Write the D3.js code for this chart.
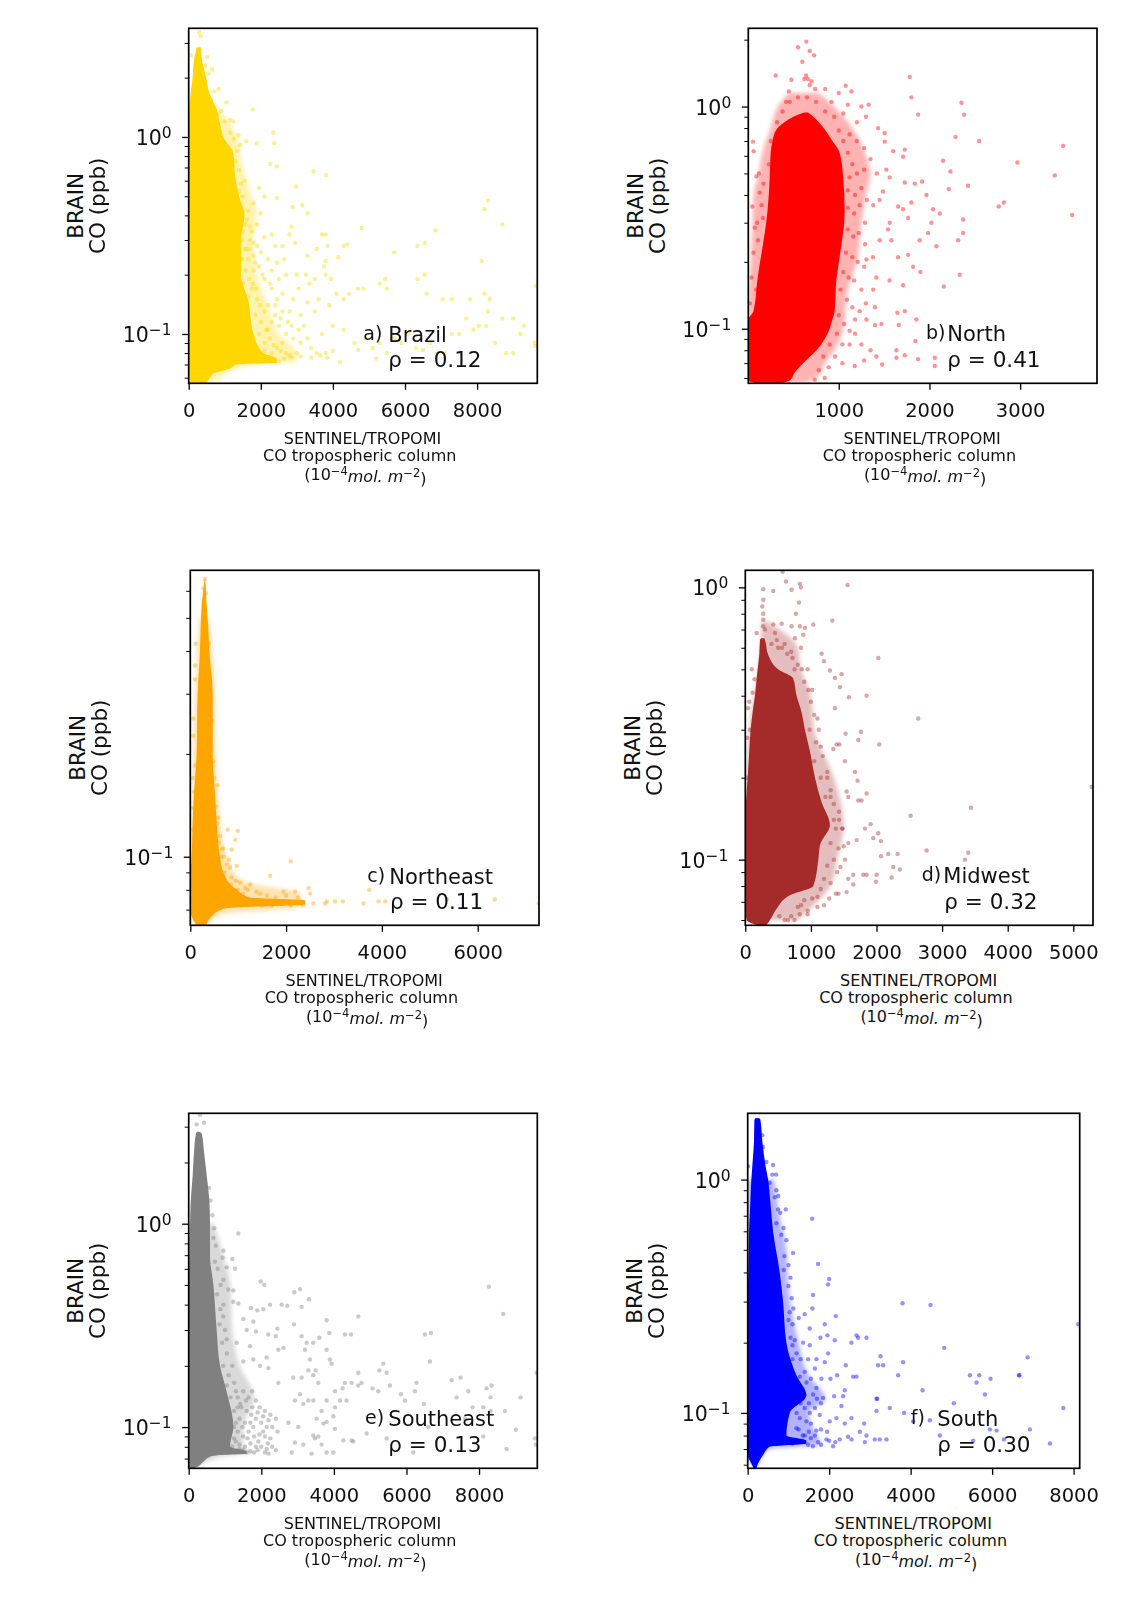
<!DOCTYPE html>
<html>
<head>
<meta charset="utf-8">
<script src="https://cdn.jsdelivr.net/npm/d3@7"></script>
<style>
  body { margin: 0; background: #fff; }
  text { font-family: "DejaVu Sans", sans-serif; fill: #111; }
</style>
</head>
<body>
<div id="chart"></div>
<script>
const width = 1123, height = 1600;

const xTitleLines = ["SENTINEL/TROPOMI", "CO tropospheric column"];
const yTitleLines = ["BRAIN", "CO (ppb)"];

// value ranges and ticks of each panel
const brazilX = [0, 9670], brazilY = [0.0562, 3.56];
const northX = [3, 3847], northY = [0.0568, 2.25];
const northeastX = [0, 7280], northeastY = [0.063, 0.689];
const midwestX = [0, 5300], midwestY = [0.0574, 1.155];
const southeastX = [0, 9605], southeastY = [0.0627, 3.49];
const southX = [0, 8150], southY = [0.0579, 1.923];

const brazilTicks = [0, 2000, 4000, 6000, 8000];
const northTicks = [1000, 2000, 3000];
const northeastTicks = [0, 2000, 4000, 6000];
const midwestTicks = [0, 1000, 2000, 3000, 4000, 5000];
const southeastTicks = [0, 2000, 4000, 6000, 8000];
const southTicks = [0, 2000, 4000, 6000, 8000];

const brazilMinor = [0.06, 0.07, 0.08, 0.09, 0.2, 0.3, 0.4, 0.5, 0.6, 0.7, 0.8, 0.9, 2, 3];
const northMinor = [0.06, 0.07, 0.08, 0.09, 0.2, 0.3, 0.4, 0.5, 0.6, 0.7, 0.8, 0.9, 2];
const northeastMinor = [0.07, 0.08, 0.09, 0.2, 0.3, 0.4, 0.5, 0.6];
const midwestMinor = [0.06, 0.07, 0.08, 0.09, 0.2, 0.3, 0.4, 0.5, 0.6, 0.7, 0.8, 0.9];
const southeastMinor = [0.07, 0.08, 0.09, 0.2, 0.3, 0.4, 0.5, 0.6, 0.7, 0.8, 0.9, 2, 3];
const southMinor = [0.06, 0.07, 0.08, 0.09, 0.2, 0.3, 0.4, 0.5, 0.6, 0.7, 0.8, 0.9];

// saturated part of each cloud, read as [co ppb, left column, right column]
const brazilCore = [[2.85,222,333],[2.46,148,370],[2.02,110,480],[1.67,55,575],[1.37,20,780],[1.17,0,870],[1,0,960],[0.826,0,1240],[0.63,0,1290],[0.5,0,1400],[0.4,0,1550],[0.3,0,1450],[0.2,0,1450],[0.149,0,1650],[0.1,0,1800],[0.08,0,2070],[0.075,0,2445],[0.0715,0,2445],[0.07,0,1330],[0.0668,0,1150],[0.063,0,685],[0.0585,0,550],[0.0562,0,500]];
const northCore = [[0.94,620,660],[0.9,500,720],[0.85,400,780],[0.785,310,850],[0.7,270,930],[0.62,250,1010],[0.485,240,1048],[0.34,215,1065],[0.3,200,1060],[0.24,165,1030],[0.197,130,1000],[0.168,105,975],[0.12,60,955],[0.11,3,930],[0.1,3,900],[0.08,3,755],[0.07,3,607],[0.0635,3,515],[0.0585,3,460],[0.0568,100,350]];
const northeastCore = [[0.65,300,315],[0.546,237,342],[0.466,216,376],[0.4,202,397],[0.3,153,467],[0.2,132,467],[0.152,77,516],[0.127,49,550],[0.1,28,620],[0.09,7,690],[0.08,0,970],[0.076,0,1250],[0.0745,0,2400],[0.0725,0,2400],[0.071,0,900],[0.07,0,650],[0.067,30,450],[0.064,100,350],[0.063,130,340]];
const midwestCore = [[0.65,240,290],[0.64,224,300],[0.564,213,350],[0.5,188,500],[0.463,173,730],[0.4,147,782],[0.348,112,858],[0.3,81,909],[0.25,61,985],[0.2,36,1062],[0.1625,10,1163],[0.134,0,1290],[0.113,0,1138],[0.1,0,1113],[0.08,0,1036],[0.074,0,680],[0.066,0,478],[0.06,20,376],[0.0575,173,325]];
const southeastCore = [[2.83,240,290],[2.78,200,358],[2.26,147,422],[1.73,110,496],[1.28,55,570],[1,37,587],[0.7,18,587],[0.5,0,680],[0.3,0,771],[0.2,0,863],[0.149,0,1047],[0.1,0,1230],[0.08,0,1138],[0.076,0,1600],[0.074,0,1600],[0.0729,0,860],[0.0715,0,587],[0.0675,0,404],[0.0635,0,220],[0.0627,0,150]];
const southCore = [[1.83,190,290],[1.8,164,311],[1.455,155,360],[1.155,115,434],[1,90,500],[0.8,65,557],[0.6,33,622],[0.4,16,786],[0.3,0,868],[0.2,0,950],[0.145,0,1196],[0.119,0,1441],[0.1,0,1032],[0.08,0,950],[0.076,0,1441],[0.074,0,1441],[0.0717,0,540],[0.066,0,377],[0.0607,90,254],[0.0579,147,213]];

// thinner stippled part around the core
const brazilFringe = [[1.5,60,700],[1,0,1350],[0.7,0,1500],[0.5,0,1750],[0.4,0,1900],[0.3,0,1800],[0.2,0,1900],[0.14,0,2200],[0.1,0,2500],[0.08,0,3000],[0.072,0,3000],[0.07,0,2000],[0.066,0,1300],[0.06,0,900],[0.0565,0,650]];
const northFringe = [[1.15,450,780],[1,330,950],[0.8,250,1150],[0.6,150,1300],[0.5,120,1350],[0.4,60,1300],[0.3,50,1250],[0.2,30,1200],[0.15,10,1100],[0.1,3,1050],[0.08,3,950],[0.07,3,850],[0.06,3,750],[0.0568,3,600]];
const northeastFringe = [[0.5,180,400],[0.3,100,520],[0.2,60,540],[0.12,30,650],[0.1,10,750],[0.085,0,1100],[0.078,0,2300],[0.071,0,2300],[0.068,0,700],[0.064,30,420]];
const midwestFringe = [[0.75,250,330],[0.6,230,800],[0.5,200,850],[0.4,130,1000],[0.3,60,1050],[0.2,10,1350],[0.134,0,1500],[0.1,0,1400],[0.08,0,1300],[0.07,0,1100],[0.06,0,800]];
const southeastFringe = [[1,0,700],[0.7,0,950],[0.5,0,1150],[0.3,0,1200],[0.2,0,1400],[0.14,0,1800],[0.1,0,1500],[0.08,0,1500],[0.075,0,1700],[0.072,0,1000],[0.064,0,300]];
const southFringe = [[1,0,650],[0.7,0,780],[0.5,0,950],[0.35,0,1000],[0.2,0,1250],[0.145,0,1500],[0.115,0,1900],[0.1,0,1500],[0.08,0,1700],[0.073,0,1800],[0.07,0,500],[0.06,60,280]];

// single points that can be told apart, [column, co ppb]
const brazilPts = [[1778,1.38],[2352,1.05],[2370,0.93],[1890,0.93],[1240,1.2],[1150,1.22],[1426,0.91],[1600,0.95],[1380,1.02],[1050,1.5],[830,1.75],[650,2.2],[520,2.55],[290,3.4],[330,3.25],[60,2.6],[620,1.55],[780,1.3],[3463,0.67],[3815,0.64],[2260,0.73],[2445,0.71],[2982,0.56],[1950,0.55],[2100,0.5],[2450,0.49],[2880,0.44],[3150,0.45],[3300,0.41],[1990,0.41],[1800,0.46],[1650,0.42],[1550,0.6],[1400,0.68],[1300,0.75],[1400,0.53],[8300,0.475],[8200,0.43],[8700,0.36],[6850,0.335],[6550,0.29],[6350,0.28],[5700,0.26],[8130,0.235],[4800,0.345],[4400,0.285],[4300,0.28],[3800,0.32],[3700,0.32],[3850,0.28],[3550,0.27],[3300,0.25],[4150,0.245],[3800,0.235],[3750,0.22],[3800,0.2],[3950,0.19],[2850,0.35],[2800,0.32],[2950,0.29],[2600,0.28],[2400,0.28],[3000,0.2],[2700,0.2],[9620,0.175],[8200,0.16],[8300,0.13],[9000,0.12],[8700,0.12],[9300,0.11],[8350,0.15],[7800,0.15],[7300,0.15],[7050,0.15],[6600,0.16],[6350,0.19],[6550,0.2],[5300,0.18],[5450,0.19],[5500,0.17],[4850,0.17],[4700,0.17],[4450,0.16],[4300,0.15],[4100,0.16],[3900,0.14],[3600,0.15],[3300,0.145],[3500,0.13],[3100,0.125],[3200,0.11],[2800,0.13],[2450,0.15],[2600,0.16],[2300,0.17],[2100,0.19],[1950,0.22],[1800,0.25],[2000,0.26],[2200,0.24],[1700,0.3],[1900,0.28],[2100,0.31],[1700,0.35],[1600,0.27],[1500,0.33],[1800,0.21],[1750,0.17],[1900,0.15],[2100,0.13],[2300,0.115],[2500,0.11],[2700,0.1],[2900,0.095],[3100,0.09],[3400,0.085],[3700,0.1],[4000,0.11],[4300,0.105],[4600,0.09],[4900,0.095],[5100,0.085],[5300,0.09],[5500,0.08],[5700,0.095],[5900,0.09],[6100,0.1],[6300,0.085],[6500,0.083],[6700,0.09],[6900,0.08],[7100,0.08],[7300,0.1],[7500,0.1],[7700,0.12],[7900,0.105],[8050,0.11],[8250,0.11],[8500,0.09],[8800,0.08],[9200,0.1],[9600,0.09],[9620,0.087],[9000,0.08],[2600,0.13],[2900,0.15],[3050,0.17],[3350,0.18],[3500,0.19],[3250,0.2],[2500,0.19],[2300,0.21],[2400,0.125],[2200,0.105],[2600,0.09],[2850,0.11],[3050,0.105],[3300,0.095],[3550,0.08],[3800,0.08],[4000,0.082],[2800,0.078],[3100,0.077],[3400,0.076],[3650,0.078],[3850,0.076],[4200,0.072],[4700,0.083],[5200,0.075]];
const brazilEdge = [[1500,0.42],[1620,0.38],[1750,0.33],[1480,0.3],[1560,0.27],[1650,0.24],[1480,0.24],[1570,0.21],[1680,0.19],[1500,0.18],[1780,0.18],[1650,0.155],[1880,0.17],[1980,0.14],[1850,0.125],[2000,0.115],[2150,0.105],[1950,0.1],[2250,0.095],[2100,0.09],[2350,0.088],[2450,0.085],[2550,0.082],[2700,0.08],[2300,0.08],[2100,0.082],[2650,0.075],[2850,0.076],[3000,0.08],[2500,0.073],[1500,0.5],[1450,0.58],[1350,0.85],[1250,0.98],[1150,1.05],[1000,1.2],[900,1.35],[700,1.7],[550,2.1],[460,2.3],[1560,0.36],[1700,0.27],[1850,0.23],[2050,0.2],[2250,0.18],[2400,0.14],[2200,0.14],[2550,0.12],[2750,0.115],[2300,0.32],[2450,0.23],[2650,0.24],[1900,0.36],[1800,0.29]];
const northPts = [[643,1.96],[551,1.85],[680,1.78],[728,1.7],[599,1.59],[305,1.38],[620,1.33],[660,1.33],[700,1.3],[640,1.38],[680,1.25],[740,1.2],[478,1.32],[1077,1.24],[1140,1.17],[1783,1.36],[1800,1.1],[1875,0.92],[2353,1.04],[2382,0.92],[2287,0.73],[2548,0.7],[3474,0.665],[2970,0.56],[3382,0.49],[3573,0.325],[2820,0.37],[2764,0.355],[2426,0.44],[2150,0.57],[2231,0.51],[2213,0.425],[1919,0.46],[1728,0.455],[1838,0.45],[1967,0.4],[2040,0.345],[2114,0.33],[2371,0.31],[2022,0.3],[2371,0.27],[2316,0.25],[1985,0.27],[1893,0.25],[2077,0.235],[1765,0.215],[1654,0.21],[1820,0.19],[1900,0.18],[2334,0.175],[2158,0.155],[1710,0.157],[1728,0.12],[1647,0.118],[1856,0.11],[1661,0.104],[1470,0.105],[1400,0.104],[1845,0.088],[1636,0.08],[1728,0.076],[1636,0.074],[1875,0.073],[2059,0.074],[2059,0.068],[1478,0.069],[1415,0.075],[1305,0.11],[1176,0.068],[845,0.06],[735,0.059],[1434,0.8],[1507,0.76],[1507,0.695],[1600,0.63],[1728,0.64],[1710,0.595],[1525,0.52],[1562,0.48],[1488,0.415],[1654,0.355],[1800,0.37],[1710,0.345],[1765,0.315],[1562,0.3],[1580,0.25],[1543,0.28],[1452,0.25],[1378,0.21],[1305,0.205],[1415,0.17],[1560,0.165],[55,0.695],[62,0.63],[92,0.485],[129,0.41],[48,0.355],[165,0.315],[74,0.285],[1300,0.9],[1200,0.85],[1350,0.58],[1420,0.5],[1380,0.36],[1450,0.38],[1380,0.15],[1300,0.13],[1400,0.125],[1250,0.085],[1350,0.08],[1280,0.072],[1180,0.095],[1100,1.02],[1250,1],[1330,1.02],[1000,1.15],[850,1.2],[450,1.17],[420,1.05],[920,1.05]];
const northEdge = [[1100,0.62],[1150,0.55],[1120,0.48],[1200,0.5],[1280,0.52],[1100,0.42],[1180,0.4],[1250,0.43],[1310,0.38],[1100,0.35],[1170,0.33],[1230,0.36],[1290,0.3],[1100,0.28],[1160,0.26],[1220,0.27],[1290,0.24],[1080,0.22],[1150,0.21],[1210,0.2],[1280,0.19],[1050,0.18],[1110,0.17],[1170,0.165],[1250,0.15],[1020,0.15],[1090,0.135],[1150,0.125],[1230,0.12],[1000,0.115],[1060,0.105],[1120,0.098],[1180,0.11],[980,0.095],[1040,0.085],[1120,0.085],[900,0.085],[960,0.075],[1040,0.07],[830,0.075],[890,0.067],[780,0.065],[1050,0.7],[1000,0.78],[1120,0.75],[1200,0.7],[1280,0.65],[950,0.9],[850,0.95],[1050,0.93],[750,1.05],[650,1.1],[550,1.1],[460,1.05],[380,0.95],[320,0.85],[250,0.7],[230,0.55],[120,0.5],[170,0.45],[100,0.3],[150,0.36],[60,0.22],[110,0.25],[40,0.17],[90,0.15],[20,0.13]];
const northeastPts = [[307,0.65],[272,0.61],[328,0.59],[293,0.54],[112,0.42],[397,0.42],[98,0.363],[376,0.35],[63,0.254],[63,0.226],[98,0.185],[84,0.155],[572,0.162],[63,0.139],[585,0.13],[781,0.12],[990,0.119],[941,0.112],[864,0.105],[690,0.106],[808,0.098],[969,0.094],[829,0.093],[2098,0.097],[1666,0.088],[2467,0.081],[2189,0.079],[1945,0.079],[1248,0.083],[1038,0.084],[864,0.087],[934,0.08],[1457,0.078],[2572,0.073],[2502,0.078],[2816,0.073],[2851,0.074],[3025,0.074],[3185,0.074],[3617,0.073],[3736,0.08],[3931,0.074],[4070,0.074],[5360,0.075],[6357,0.075],[7277,0.073],[1100,0.078],[1380,0.079],[1600,0.077],[1780,0.076],[2000,0.077],[2250,0.076],[2350,0.072],[1150,0.081],[950,0.085],[720,0.09],[640,0.1],[600,0.11]];
const northeastEdge = [[400,0.28],[460,0.25],[480,0.19],[500,0.17],[540,0.14],[560,0.125],[620,0.115],[660,0.105],[700,0.1],[760,0.095],[850,0.083],[700,0.078],[1000,0.08],[1200,0.08],[1300,0.073],[1500,0.072],[1700,0.072],[1900,0.073],[2100,0.072],[2300,0.074],[100,0.33],[50,0.17],[60,0.12]];
const midwestPts = [[569,1.14],[620,1.05],[274,0.985],[427,0.97],[706,0.98],[833,1.03],[848,1],[1560,1.02],[818,0.88],[259,0.85],[274,0.9],[772,0.8],[1326,0.755],[1036,0.73],[427,0.73],[554,0.735],[706,0.72],[833,0.72],[909,0.71],[274,0.8],[274,0.76],[173,0.68],[452,0.68],[757,0.65],[884,0.67],[2027,0.55],[1163,0.57],[1199,0.535],[1290,0.495],[1468,0.48],[1367,0.465],[1443,0.43],[1849,0.4],[1580,0.395],[1367,0.36],[2637,0.33],[2042,0.265],[1529,0.29],[1763,0.295],[1722,0.275],[1392,0.265],[1341,0.255],[1433,0.265],[1519,0.23],[1671,0.21],[1712,0.195],[1544,0.178],[1570,0.17],[1849,0.175],[1773,0.165],[1722,0.165],[3439,0.155],[2520,0.145],[1910,0.135],[1824,0.13],[2027,0.125],[1951,0.12],[2068,0.117],[2764,0.108],[3398,0.106],[3348,0.1],[2322,0.105],[2179,0.105],[2068,0.103],[2256,0.094],[2357,0.092],[2230,0.086],[2002,0.088],[1991,0.083],[1798,0.088],[1849,0.088],[1646,0.088],[1570,0.085],[1646,0.081],[1544,0.076],[5278,0.185],[1697,0.118],[1570,0.115],[1500,0.112],[1450,0.094],[1520,0.1],[1400,0.09],[1380,0.075],[1280,0.072],[1200,0.068],[950,0.065],[830,0.063],[700,0.062],[600,0.06],[850,0.068],[1100,0.073],[1350,0.14],[1480,0.13],[1430,0.15],[1300,0.17],[1250,0.2],[1150,0.26],[1100,0.33],[1020,0.42],[950,0.5],[850,0.6],[700,0.58],[600,0.62],[500,0.6],[110,0.41],[40,0.36],[70,0.3]];
const midwestEdge = [[270,0.72],[300,0.7],[400,0.62],[480,0.64],[560,0.6],[640,0.57],[720,0.55],[800,0.52],[860,0.5],[750,0.5],[900,0.45],[960,0.42],[1000,0.38],[1050,0.34],[1120,0.3],[980,0.3],[1080,0.27],[1180,0.24],[1050,0.23],[1150,0.2],[1250,0.21],[1300,0.18],[1220,0.17],[1350,0.16],[1430,0.14],[1380,0.13],[1480,0.13],[1300,0.115],[1420,0.11],[1250,0.095],[1350,0.1],[1200,0.085],[1300,0.082],[1420,0.075],[1150,0.078],[1020,0.072],[900,0.071],[1100,0.067],[800,0.067],[950,0.063],[750,0.06],[650,0.06],[520,0.062],[100,0.5],[60,0.38],[140,0.46],[30,0.28],[20,0.2]];
const southeastPts = [[312,3.42],[220,3.08],[422,3.14],[1368,0.896],[955,0.737],[936,0.68],[1203,0.67],[1276,0.6],[1047,0.61],[955,0.53],[1983,0.52],[2084,0.5],[1092,0.475],[1230,0.47],[3066,0.477],[2910,0.46],[3314,0.425],[3112,0.39],[2561,0.4],[2717,0.395],[2240,0.4],[2056,0.38],[1891,0.375],[1717,0.385],[1230,0.413],[1368,0.405],[955,0.4],[1505,0.34],[1781,0.33],[1597,0.3],[1854,0.295],[2901,0.32],[3800,0.335],[4673,0.35],[3874,0.29],[4305,0.285],[4471,0.285],[3112,0.28],[3250,0.26],[3433,0.26],[3599,0.275],[2442,0.305],[2194,0.285],[2400,0.28],[6509,0.285],[6674,0.29],[8271,0.49],[8666,0.36],[6646,0.21],[5361,0.205],[5251,0.19],[5453,0.185],[4673,0.185],[3204,0.24],[3800,0.24],[3892,0.215],[3938,0.205],[3341,0.215],[3296,0.19],[3498,0.19],[3433,0.18],[3571,0.165],[2882,0.175],[3112,0.175],[2469,0.165],[1964,0.2],[1781,0.215],[1689,0.25],[1322,0.26],[1047,0.27],[1505,0.21],[2194,0.195],[2148,0.22],[2469,0.24],[2607,0.245],[7243,0.17],[7491,0.175],[6279,0.165],[5545,0.16],[5067,0.155],[5223,0.15],[4673,0.16],[4489,0.165],[4305,0.165],[4764,0.165],[4030,0.15],[4241,0.155],[4351,0.135],[4168,0.135],[4030,0.125],[3800,0.135],[3663,0.12],[3433,0.135],[3158,0.13],[2928,0.135],[3066,0.145],[3296,0.135],[6233,0.15],[5848,0.145],[5958,0.135],[6481,0.13],[7381,0.14],[7702,0.15],[8207,0.155],[8345,0.16],[8317,0.14],[9143,0.14],[7821,0.125],[8115,0.125],[8712,0.12],[8317,0.12],[7610,0.11],[6600,0.1],[9015,0.097],[9585,0.185],[9540,0.088],[9565,0.082],[8757,0.078],[8115,0.09],[6187,0.075],[5453,0.088],[4902,0.093],[4535,0.085],[4489,0.086],[4260,0.086],[3984,0.075],[3800,0.075],[3663,0.082],[3433,0.091],[3571,0.09],[3479,0.088],[3387,0.074],[3158,0.082],[2928,0.084],[2837,0.075],[3020,0.1],[2745,0.105],[4030,0.098],[3709,0.104],[3525,0.11],[3984,0.113],[3800,0.106],[1350,0.14],[1500,0.15],[1650,0.14],[1750,0.15],[1850,0.135],[1450,0.125],[1600,0.12],[1750,0.125],[1950,0.125],[2100,0.12],[2250,0.115],[2400,0.11],[1400,0.11],[1550,0.105],[1700,0.105],[1850,0.11],[2000,0.105],[2150,0.1],[2300,0.1],[2450,0.095],[1350,0.095],[1500,0.09],[1650,0.095],[1800,0.09],[1950,0.092],[2100,0.09],[2250,0.088],[1400,0.082],[1550,0.08],[1700,0.083],[1850,0.08],[2000,0.08],[2150,0.078],[2300,0.08],[1300,0.076],[1600,0.075],[1800,0.075],[2100,0.075],[2200,0.074],[2400,0.077],[1420,0.13],[1580,0.135],[1720,0.115],[1900,0.118],[2050,0.113],[2200,0.108],[1480,0.1],[1620,0.088],[1780,0.1],[1920,0.085],[2050,0.095],[2180,0.083],[1250,0.12],[1300,0.105],[1250,0.088]];
const southeastEdge = [[560,1.5],[600,1.3],[650,1.1],[700,0.95],[680,0.85],[750,0.78],[720,0.65],[800,0.6],[880,0.5],[780,0.45],[870,0.38],[950,0.35],[1000,0.3],[850,0.32],[920,0.26],[1050,0.23],[950,0.2],[1100,0.18],[1200,0.2],[1050,0.16],[1250,0.165],[1150,0.14],[1300,0.15],[1250,0.1],[1350,0.125],[1300,0.085],[1200,0.08],[1400,0.078],[1500,0.077],[1700,0.076],[1900,0.077],[1000,0.075]];
const southPts = [[229,1.8],[278,1.72],[213,1.58],[360,1.55],[377,1.38],[8,1.14],[622,1.155],[459,1.19],[606,1.05],[541,0.97],[704,0.9],[663,0.84],[745,0.745],[934,0.745],[1581,0.68],[827,0.58],[704,0.65],[1114,0.485],[1728,0.435],[885,0.41],[1998,0.375],[1974,0.355],[1605,0.32],[1589,0.28],[3800,0.295],[4488,0.29],[2162,0.26],[1253,0.255],[1400,0.265],[1032,0.27],[1892,0.24],[1523,0.23],[1957,0.215],[1785,0.21],[2138,0.205],[2670,0.215],[2711,0.21],[2547,0.2],[2916,0.21],[4824,0.19],[6871,0.173],[1523,0.195],[1360,0.2],[1155,0.205],[1097,0.195],[1974,0.18],[1687,0.17],[1482,0.17],[1892,0.165],[2408,0.16],[3260,0.175],[3202,0.16],[3325,0.16],[3816,0.165],[3694,0.145],[2670,0.143],[2588,0.143],[2195,0.145],[2031,0.14],[1810,0.14],[1650,0.155],[4292,0.125],[5454,0.145],[5684,0.145],[5618,0.135],[5962,0.14],[5823,0.12],[6658,0.145],[6670,0.145],[5061,0.11],[7748,0.105],[3161,0.115],[3180,0.115],[3489,0.105],[3161,0.102],[3841,0.1],[4062,0.092],[4472,0.093],[2383,0.125],[2342,0.118],[2121,0.118],[2301,0.107],[2547,0.095],[2178,0.095],[2383,0.09],[2015,0.092],[2858,0.09],[2752,0.083],[4717,0.08],[6928,0.085],[5946,0.085],[6110,0.084],[5536,0.076],[6290,0.077],[7420,0.074],[8116,0.24],[3407,0.077],[3243,0.077],[3120,0.077],[2916,0.08],[2875,0.075],[2465,0.079],[2260,0.077],[2097,0.072],[1933,0.077],[1728,0.075],[1482,0.073],[1687,0.084],[1441,0.092],[1278,0.095],[1196,0.086],[1523,0.1],[1769,0.098],[1851,0.116],[1605,0.12],[1687,0.128],[1278,0.143],[1441,0.135],[1300,0.11],[1400,0.105],[1550,0.09],[1650,0.08],[1800,0.085],[1350,0.08],[2000,0.076],[2150,0.075],[2550,0.077]];
const southEdge = [[700,1.05],[750,0.85],[800,0.72],[880,0.62],[950,0.55],[900,0.47],[1000,0.43],[1050,0.38],[1000,0.35],[1080,0.31],[1120,0.28],[1000,0.25],[1100,0.24],[1050,0.21],[1200,0.18],[1100,0.17],[1300,0.17],[1400,0.15],[1550,0.14],[1700,0.115],[1800,0.11],[1650,0.105],[1500,0.11],[1350,0.115],[1250,0.125],[1200,0.1],[1250,0.085],[1400,0.08],[1550,0.078],[1200,0.076],[1350,0.076],[1600,0.072],[1800,0.073],[1950,0.083],[1100,0.074],[1500,0.083]];

const panels = [
  { letter: "a)", name: "Brazil", rho: "ρ = 0.12", color: "#ffd700", left: 188.7, right: 537.3, top: 28.3, xDomain: brazilX, yDomain: brazilY, xTicks: brazilTicks, yMinor: brazilMinor, core: brazilCore, fringe: brazilFringe, pts: brazilPts.concat(brazilEdge), lx: 363.3, nx: 388.3, ny: 341.7, rx: 388.3 },
  { letter: "b)", name: "North", rho: "ρ = 0.41", color: "#ff0000", left: 748.3, right: 1097, top: 28.3, xDomain: northX, yDomain: northY, xTicks: northTicks, yMinor: northMinor, core: northCore, fringe: northFringe, pts: northPts.concat(northEdge), lx: 926, nx: 947.3, ny: 341, rx: 947.3 },
  { letter: "c)", name: "Northeast", rho: "ρ = 0.11", color: "#ffa500", left: 190.3, right: 539, top: 570.3, xDomain: northeastX, yDomain: northeastY, xTicks: northeastTicks, yMinor: northeastMinor, core: northeastCore, fringe: northeastFringe, pts: northeastPts.concat(northeastEdge), lx: 367.3, nx: 389.3, ny: 883.7, rx: 390 },
  { letter: "d)", name: "Midwest", rho: "ρ = 0.32", color: "#a52a2a", left: 745.3, right: 1093, top: 570.3, xDomain: midwestX, yDomain: midwestY, xTicks: midwestTicks, yMinor: midwestMinor, core: midwestCore, fringe: midwestFringe, pts: midwestPts.concat(midwestEdge), lx: 921.7, nx: 943.3, ny: 883.3, rx: 944.3 },
  { letter: "e)", name: "Southeast", rho: "ρ = 0.13", color: "#808080", left: 188.7, right: 537.3, top: 1113.3, xDomain: southeastX, yDomain: southeastY, xTicks: southeastTicks, yMinor: southeastMinor, core: southeastCore, fringe: southeastFringe, pts: southeastPts.concat(southeastEdge), lx: 365, nx: 388.3, ny: 1426, rx: 388.3 },
  { letter: "f)", name: "South", rho: "ρ = 0.30", color: "#0000ff", left: 747.7, right: 1079.7, top: 1113.3, xDomain: southX, yDomain: southY, xTicks: southTicks, yMinor: southMinor, core: southCore, fringe: southFringe, pts: southPts.concat(southEdge), lx: 910.7, nx: 937.3, ny: 1426, rx: 937.3 }
];

const plotHeight = 355;

const svg = d3.select("#chart").append("svg")
  .attr("width", width)
  .attr("height", height)
  .attr("viewBox", [0, 0, width, height]);

const defs = svg.append("defs");
defs.append("filter").attr("id", "soft").append("feGaussianBlur").attr("stdDeviation", 2);
defs.append("filter").attr("id", "dot").append("feGaussianBlur").attr("stdDeviation", 0.5);

panels.forEach((p, i) => {
  const bottom = p.top + plotHeight;
  const x = d3.scaleLinear().domain(p.xDomain).range([p.left, p.right]);
  const y = d3.scaleLog().domain(p.yDomain).range([bottom, p.top]);

  defs.append("clipPath").attr("id", "clip" + i)
    .append("rect")
    .attr("x", p.left).attr("y", p.top)
    .attr("width", p.right - p.left).attr("height", plotHeight);

  const marks = svg.append("g").attr("clip-path", `url(#clip${i})`);

  const area = d3.area()
    .curve(d3.curveMonotoneY)
    .y(d => y(d[0]))
    .x0(d => x(d[1]))
    .x1(d => x(d[2]));

  marks.append("path").datum(p.fringe)
    .attr("d", area)
    .attr("fill", p.color)
    .attr("opacity", 0.3)
    .attr("filter", "url(#soft)");

  marks.append("path").datum(p.core)
    .attr("d", area)
    .attr("fill", p.color)
    .attr("filter", "url(#dot)");

  marks.append("g").attr("filter", "url(#dot)")
    .selectAll("circle")
    .data(p.pts)
    .join("circle")
    .attr("cx", d => x(d[0]))
    .attr("cy", d => y(d[1]))
    .attr("r", 2.2)
    .attr("fill", p.color)
    .attr("opacity", 0.42);

  // frame
  svg.append("rect")
    .attr("x", p.left).attr("y", p.top)
    .attr("width", p.right - p.left).attr("height", plotHeight)
    .attr("fill", "none")
    .attr("stroke", "#000")
    .attr("stroke-width", 1.7);

  // axes
  const xAxis = svg.append("g")
    .attr("transform", `translate(0,${bottom})`)
    .call(d3.axisBottom(x).tickValues(p.xTicks).tickFormat(d3.format("d")).tickSize(6.5).tickPadding(13));
  xAxis.select(".domain").remove();
  xAxis.selectAll("line").attr("stroke-width", 1.3);
  xAxis.selectAll("text").style("font-size", "19.5px");

  const yMajor = [1, 0.1].filter(d => d >= p.yDomain[0] && d <= p.yDomain[1]);
  const yAxis = svg.append("g")
    .attr("transform", `translate(${p.left},0)`)
    .call(d3.axisLeft(y).tickValues(yMajor).tickFormat("").tickSize(6.5));
  yAxis.select(".domain").remove();
  yAxis.selectAll("line").attr("stroke-width", 1.3);
  yAxis.selectAll(".tick text").each(function(d) {
    const t = d3.select(this).text(null)
      .attr("x", -17).attr("dy", "0.37em")
      .style("font-size", "20.5px");
    t.append("tspan").text("10");
    t.append("tspan")
      .text(String(Math.round(Math.log10(d))).replace("-", "\u2212"))
      .attr("dy", "-0.45em")
      .style("font-size", "15.5px");
  });

  const yMinorAxis = svg.append("g")
    .attr("transform", `translate(${p.left},0)`)
    .call(d3.axisLeft(y).tickValues(p.yMinor).tickFormat("").tickSize(4));
  yMinorAxis.select(".domain").remove();
  yMinorAxis.selectAll("line").attr("stroke-width", 1);

  // titles, the lines of the x title are not quite centred on each other
  const cx = (p.left + p.right) / 2;
  const xTitle = svg.append("g").style("font-size", "16px").attr("text-anchor", "middle");
  xTitleLines.forEach((s, k) => {
    xTitle.append("text").attr("x", cx + (k ? -3.3 : -0.5)).attr("y", bottom + 60.5 + k * 17.5).text(s);
  });
  const unit = xTitle.append("text").attr("x", cx + 2.4).attr("y", bottom + 97);
  unit.append("tspan").text("(10");
  unit.append("tspan").text("\u22124").attr("dy", "-0.42em").style("font-size", "11.5px");
  unit.append("tspan").text("mol. m").attr("dy", "0.42em").style("font-style", "italic");
  unit.append("tspan").text("\u22122").attr("dy", "-0.42em").style("font-size", "11.5px");
  unit.append("tspan").text(")").attr("dy", "0.42em");

  const cy = p.top + plotHeight / 2;
  yTitleLines.forEach((s, k) => {
    const bx = p.left - 105.7 + k * 22;
    svg.append("text")
      .attr("transform", `translate(${bx},${cy}) rotate(-90)`)
      .attr("text-anchor", "middle")
      .style("font-size", "21.5px")
      .text(s);
  });

  // panel note
  svg.append("text").attr("x", p.lx).attr("y", p.ny - 2).style("font-size", "19px").text(p.letter);
  svg.append("text").attr("x", p.nx).attr("y", p.ny).style("font-size", "21px").text(p.name);
  svg.append("text").attr("x", p.rx).attr("y", p.ny + 25.5).style("font-size", "21.5px").text(p.rho);
});
</script>
</body>
</html>
